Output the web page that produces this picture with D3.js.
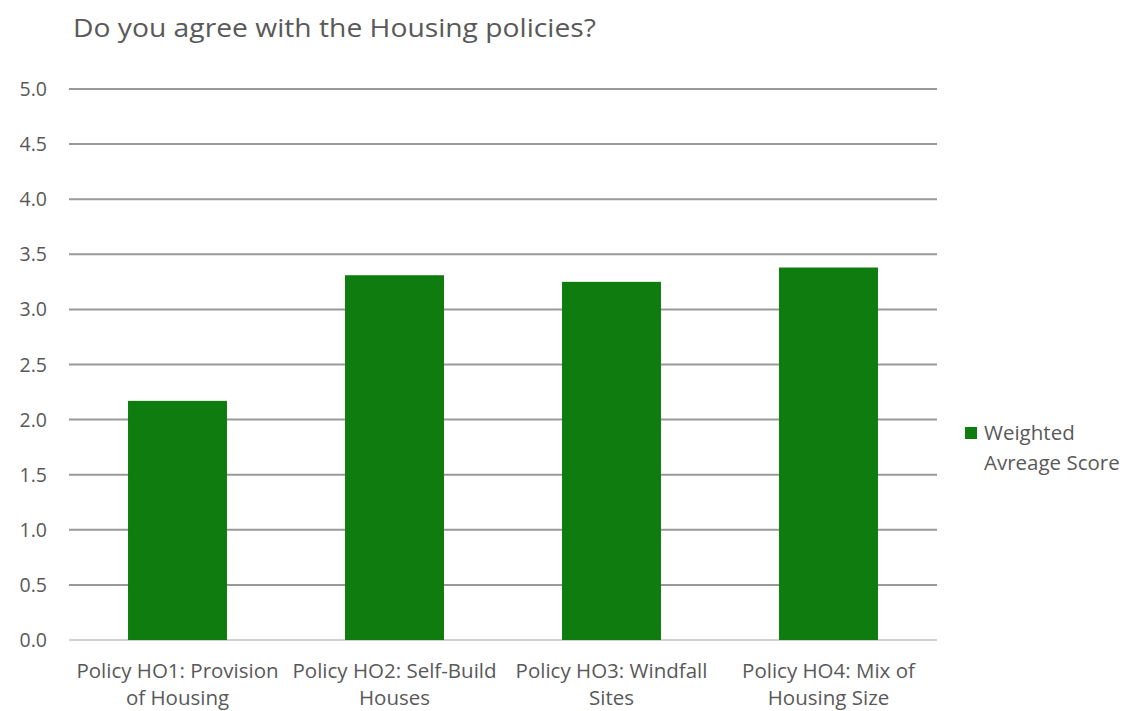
<!DOCTYPE html>
<html><head><meta charset="utf-8">
<script src="https://cdn.jsdelivr.net/npm/d3@7"></script>
<style>body{margin:0;background:#fff;} text{font-family:"Open Sans",Lato,sans-serif;fill:#595959;}</style>
</head><body>
<svg id="c" width="1129" height="711"></svg>
<script>
const categories = [["Policy HO1: Provision","of Housing"],["Policy HO2: Self-Build","Houses"],["Policy HO3: Windfall","Sites"],["Policy HO4: Mix of","Housing Size"]];
const values = [2.17, 3.31, 3.25, 3.38];
const yTicks = [0,0.5,1,1.5,2,2.5,3,3.5,4,4.5,5];
const seriesName = ["Weighted","Avreage Score"];
const title = "Do you agree with the Housing policies?";

const svg = d3.select("#c");
const m = {l:69, r:937, t:89, b:640};
const x = d3.scaleBand().domain(d3.range(categories.length)).range([m.l,m.r]).paddingInner(0.544).paddingOuter(0.272);
const y = d3.scaleLinear().domain([0,5]).range([m.b,m.t]);

svg.append("text").attr("x",73).attr("y",37).attr("font-size",26).attr("textLength",523).attr("lengthAdjust","spacingAndGlyphs").text(title);

svg.append("g").selectAll("line").data(yTicks).join("line")
  .attr("x1",m.l).attr("x2",m.r).attr("y1",d=>y(d)).attr("y2",d=>y(d))
  .attr("stroke",d=>d===0?"#d0d0d0":"#999").attr("stroke-width",2);

svg.append("g").selectAll("text").data(yTicks).join("text")
  .attr("x",47).attr("y",d=>y(d)+7).attr("text-anchor","end").attr("font-size",19.5)
  .text(d=>d.toFixed(1));

svg.append("g").selectAll("rect").data(values).join("rect")
  .attr("x",(d,i)=>x(i)).attr("width",x.bandwidth())
  .attr("y",d=>y(d)).attr("height",d=>y(0)-y(d)).attr("fill","#0e7c0e");

const xl = svg.append("g").selectAll("text").data(categories).join("text")
  .attr("text-anchor","middle").attr("font-size",20.5);
xl.each(function(d,i){
  const t=d3.select(this);
  d.forEach((line,j)=>t.append("tspan").attr("x",x(i)+x.bandwidth()/2).attr("y",678+j*27).text(line));
});

svg.append("rect").attr("x",965).attr("y",427).attr("width",12).attr("height",12).attr("fill","#0e7c0e");
svg.append("text").attr("x",984).attr("y",440).attr("font-size",20.5).text(seriesName[0]);
svg.append("text").attr("x",984).attr("y",470).attr("font-size",20.5).text(seriesName[1]);
</script>
</body></html>
